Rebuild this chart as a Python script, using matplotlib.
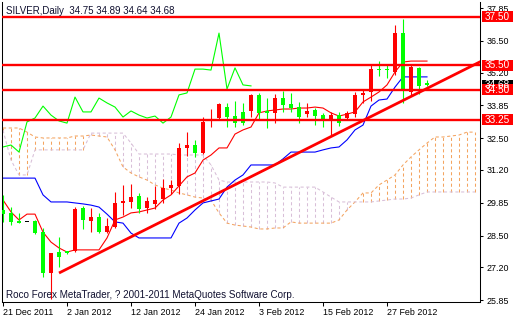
import matplotlib
matplotlib.use("Agg")
import matplotlib.pyplot as plt
from matplotlib.patches import Rectangle
from matplotlib.transforms import IdentityTransform

plt.rcParams['font.family'] = ['Liberation Sans', 'DejaVu Sans']

# ---- data (bar index 0 = 21 Dec 2011) ----
opens = [29.55, 29.43, 29.10, 29.06, 29.10, 28.65, 26.96, 27.82, 27.86, 27.86,
         29.63, 29.10, 29.26, 28.65, 28.85, 29.84, 29.88, 30.12, 29.63, 29.80,
         30.00, 30.45, 30.54, 32.10, 32.22, 31.89, 33.21, 33.33, 33.78, 33.41,
         33.58, 33.62, 34.28, 33.62, 33.54, 34.15, 33.91, 33.78, 33.49, 33.66,
         33.45, 33.29, 33.45, 33.33, 33.49, 34.28, 34.40, 35.34, 35.34, 35.22,
         36.82, 34.40, 35.39, 34.75]
highs = [30.17, 29.67, 29.43, 29.06, 29.14, 28.81, 27.78, 28.44, 27.88, 29.67,
         29.71, 29.63, 29.43, 29.22, 30.29, 30.58, 30.62, 30.25, 30.08, 30.54,
         30.82, 30.78, 32.30, 32.75, 32.43, 33.37, 33.70, 33.95, 33.95, 34.03,
         33.95, 34.32, 34.36, 34.15, 34.32, 34.44, 34.36, 33.99, 33.95, 33.74,
         33.54, 33.58, 33.58, 33.62, 34.40, 34.52, 35.51, 35.67, 35.55, 37.15,
         37.40, 35.51, 35.43, 34.89]
lows = [29.06, 28.93, 29.01, 29.06, 28.56, 26.80, 25.90, 27.21, 27.76, 27.82,
        28.77, 28.65, 28.60, 28.60, 28.80, 29.34, 29.63, 29.43, 29.43, 29.59,
        29.84, 30.21, 30.21, 31.77, 31.73, 31.85, 32.96, 33.25, 32.96, 32.96,
        33.04, 33.37, 33.25, 32.92, 33.12, 33.58, 33.58, 33.12, 33.37, 33.04,
        32.96, 32.59, 33.00, 33.25, 33.37, 33.95, 34.03, 35.06, 34.97, 35.10,
        33.95, 34.28, 34.32, 34.64]
closes = [29.38, 29.06, 29.01, 29.06, 28.60, 26.96, 27.78, 27.62, 27.78, 29.59,
          29.14, 29.26, 28.65, 28.89, 29.84, 29.92, 30.08, 29.59, 29.92, 29.96,
          30.45, 30.58, 32.10, 32.22, 31.89, 33.17, 33.29, 33.91, 33.37, 33.12,
          33.12, 34.28, 33.54, 33.54, 34.15, 33.86, 33.74, 33.37, 33.62, 33.41,
          33.29, 33.45, 33.12, 33.54, 34.28, 34.36, 35.34, 35.30, 35.30, 36.82,
          34.44, 35.43, 34.65, 34.68]

tenkan = [29.96, 29.47, 29.14, 29.38, 29.38, 28.64, 28.23, 27.99, 27.82, 27.91,
          27.91, 27.91, 27.91, 28.40, 29.14, 29.26, 29.43, 29.47, 29.55, 29.63,
          29.96, 30.17, 30.54, 30.91, 31.07, 31.60, 31.81, 32.10, 32.10, 32.67,
          32.84, 32.96, 33.54, 33.62, 33.66, 33.70, 33.70, 33.74, 33.74, 33.78,
          33.74, 33.54, 33.41, 33.49, 33.58, 33.99, 34.19, 34.40, 34.69, 35.22,
          35.63, 35.67, 35.67, 35.67]
kijun = [30.86, 30.86, 30.86, 30.86, 30.86, 30.17, 29.88, 29.88, 29.88, 29.84,
         29.80, 29.75, 29.67, 29.38, 29.06, 29.01, 28.60, 28.40, 28.40, 28.40,
         28.40, 28.40, 29.01, 29.22, 29.55, 29.84, 29.92, 30.00, 30.49, 30.78,
         30.99, 31.40, 31.40, 31.40, 31.40, 31.65, 31.93, 31.93, 31.93, 31.93,
         32.02, 32.10, 32.14, 32.43, 32.84, 33.04, 33.82, 34.07, 34.11, 34.60,
         35.02, 35.02, 35.02, 35.02]
chikou = [32.14, 32.22, 31.93, 33.17, 33.33, 33.82, 33.45, 33.21, 33.12, 34.19,
          33.58, 33.58, 34.15, 33.95, 33.78, 33.37, 33.62, 33.45, 33.33, 33.41,
          33.12, 33.37, 34.28, 34.36, 35.34, 35.34, 35.30, 36.82, 34.52, 35.39,
          34.69, 34.65]
senkou_a = [32.92, 32.92, 32.92, 32.75, 32.55, 32.51, 32.51, 32.51, 32.51, 32.59,
            32.59, 32.63, 32.59, 32.55, 32.02, 31.32, 31.07, 30.91, 30.78, 30.58,
            30.45, 30.37, 30.25, 30.17, 30.08, 30.04, 29.96, 29.43, 29.01, 28.93,
            28.89, 28.85, 28.77, 28.77, 28.81, 28.81, 29.06, 29.01, 29.01, 29.01,
            29.01, 29.01, 29.14, 29.55, 29.88, 30.25, 30.25, 30.58, 30.78, 30.99,
            31.40, 31.73, 32.02, 32.30, 32.55, 32.55, 32.59, 32.63, 32.75, 32.75]
senkou_b = [32.83, 31.60, 30.99, 30.99, 32.02, 32.02, 32.02, 32.02, 32.02, 32.02,
            32.02, 32.71, 32.71, 32.71, 32.71, 32.71, 32.30, 31.85, 31.85, 31.85,
            31.85, 31.85, 31.81, 31.81, 31.81, 31.81, 31.40, 30.78, 30.70, 30.70,
            30.70, 30.70, 30.70, 30.70, 30.66, 30.49, 30.49, 30.49, 30.49, 30.49,
            30.29, 30.08, 29.88, 29.88, 29.88, 29.88, 29.88, 29.92, 29.96, 30.00,
            30.00, 30.04, 30.17, 30.29, 30.29, 30.29, 30.29, 30.29, 30.29, 30.29]

levels = [37.50, 35.50, 34.50, 33.25]
trend_x = [7.0, 60.0]
trend_y = [26.96, 35.70]
last_price = 34.68

y_ticks = [25.85, 27.20, 28.50, 29.85, 31.20, 32.50, 33.85, 35.20, 36.50, 37.85]
date_idx = [0, 8, 16, 24, 32, 40, 48]
date_labels = ["21 Dec 2011", "2 Jan 2012", "12 Jan 2012", "24 Jan 2012",
               "3 Feb 2012", "15 Feb 2012", "27 Feb 2012"]
title = "SILVER,Daily  34.75 34.89 34.64 34.68"
footer = "Roco Forex MetaTrader, ? 2001-2011 MetaQuotes Software Corp."

UP = "#ff0000"
DOWN = "#00ff00"
SANDY = "#f4a460"
THISTLE = "#d8bfd8"

# ---- figure ----
W, H = 520, 320
fig = plt.figure(figsize=(W / 100, H / 100), dpi=100)
fig.patch.set_facecolor("white")
ax = fig.add_axes([2 / W, 18 / H, 478 / W, 300 / H])
ax.set_xlim(-0.125, 59.625)
ax.set_ylim(25.768, 38.098)
ax.set_facecolor("white")

# cloud
nb = len(senkou_a)
xs = list(range(nb))
for i in xs:
    col = SANDY if senkou_a[i] >= senkou_b[i] else THISTLE
    ax.vlines(i, min(senkou_a[i], senkou_b[i]), max(senkou_a[i], senkou_b[i]),
              colors=col, lw=0.75, linestyles=(0, (3, 2.5)), zorder=1)
ax.plot(xs, senkou_a, color=SANDY, lw=0.75, ls=(0, (3, 2.5)), zorder=1.5)
ax.plot(xs, senkou_b, color=THISTLE, lw=0.75, ls=(0, (3, 2.5)), zorder=1.5)

# ichimoku lines
ax.plot(range(len(tenkan)), tenkan, color="#ff0000", lw=0.8, zorder=2)
ax.plot(range(len(kijun)), kijun, color="#0000ff", lw=0.8, zorder=2)
ax.plot(range(len(chikou)), chikou, color="#00ff00", lw=0.8, zorder=2)

# candles
n = len(opens)
idx = list(range(n))
cols = []
for o, c in zip(opens, closes):
    if c > o:
        cols.append(UP)
    elif c < o:
        cols.append(DOWN)
    else:
        cols.append("black")
ax.vlines(idx, lows, highs, colors=cols, lw=0.8, zorder=3)
bottoms = [min(o, c) for o, c in zip(opens, closes)]
heights = [max(abs(c - o), 0.045) for o, c in zip(opens, closes)]
ax.bar(idx, heights, bottom=bottoms, width=0.62, color=cols, lw=0, zorder=4)

# horizontal levels and trend line
for lv in levels:
    ax.axhline(lv, color="#ff0000", lw=1.7, zorder=5)
ax.plot(trend_x, trend_y, color="#ff0000", lw=2.0, zorder=5, solid_capstyle="butt")

# axes styling
for s in ["left", "bottom", "right"]:
    ax.spines[s].set_linewidth(0.75)
    ax.spines[s].set_color("black")
ax.spines["top"].set_visible(False)
ax.yaxis.tick_right()
ax.set_yticks(y_ticks)
ax.set_yticklabels([f"{v:.2f}" for v in y_ticks])
ax.tick_params(axis="y", direction="out", length=2.5, width=0.75, pad=2,
               labelsize=6.4, colors="black")
ax.set_xticks(date_idx)
ax.set_xticklabels(date_labels)
for lbl in ax.get_xticklabels():
    lbl.set_ha("left")
ax.tick_params(axis="x", direction="out", length=3, width=0.75, pad=1.5,
               labelsize=6.4, colors="black")

# texts
ident = IdentityTransform()
fig.text(6, H - 11, title, transform=ident, fontsize=7.0, va="center", ha="left",
         color="#101030")
fig.text(6, H - 295, footer, transform=ident, fontsize=7.1, va="center", ha="left",
         color="#101030")


def ypx(v):
    return ax.transData.transform((0, v))[1]


def price_box(v, face):
    yc = ypx(v)
    r = Rectangle((482, yc - 5.5), 31, 11, transform=ident, facecolor=face,
                  edgecolor="none", zorder=10)
    fig.add_artist(r)
    fig.text(497.5, yc, f"{v:.2f}", transform=ident, fontsize=7.2, color="white",
             ha="center", va="center", zorder=11)


price_box(last_price, "black")
for lv in levels:
    price_box(lv, "#ff0000")

fig.savefig("out.png", dpi=100, facecolor="white")
